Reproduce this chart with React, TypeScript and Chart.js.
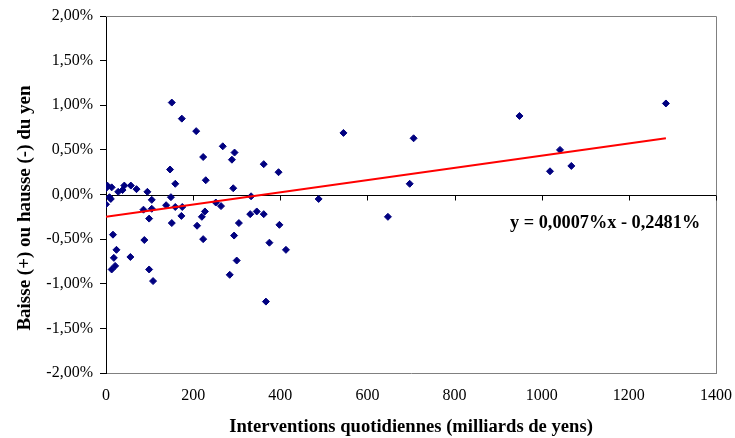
import React, { useEffect, useRef } from "react";
import { Chart, registerables } from "chart.js";

Chart.register(...registerables);

// Daily interventions (billions of yen)
const interventions = [
  151, 174, 207, 268, 295, 289, 223, 147, 229, 159, 292, 95, 70, 57, 42, 38, 28, 13, 3, 0,
  8, 11, 0, 149, 105, 105, 86, 99, 138, 159, 175, 173, 220, 227, 252, 264,
  16, 24, 18, 21, 13, 56, 88, 99, 108, 151, 209, 223, 305, 294, 300, 284,
  362, 396, 545, 706, 697, 333, 488, 331, 346, 362, 647, 398, 375, 413, 367,
  949, 1019, 1042, 1068, 1285,
];
// Change of the yen (%)
const yenChange = [
  1.03, 0.85, 0.71, 0.54, 0.47, 0.39, 0.42, 0.28, 0.16, 0.12, 0.07, 0.03, 0.06, 0.1, 0.1, 0.05, 0.03, 0.08, 0.1, 0.07,
  -0.03, -0.05, -0.11, -0.03, -0.06, -0.16, -0.17, -0.27, -0.12, -0.14, -0.14, -0.24, -0.25, -0.19, -0.09, -0.13,
  -0.45, -0.62, -0.71, -0.8, -0.84, -0.7, -0.51, -0.84, -0.97, -0.32, -0.35, -0.5, -0.32, -0.46, -0.74, -0.9,
  0.34, 0.25, 0.69, 0.63, 0.12, -0.02, -0.05, -0.22, -0.19, -0.22, -0.25, -0.34, -0.54, -0.62, -1.2,
  0.88, 0.26, 0.5, 0.32, 1.02,
];
// Linear trend end points
const trendX = [0, 1285];
const trendY = [-0.2481, 0.63];

const xTickValues = [0, 200, 400, 600, 800, 1000, 1200, 1400];
const yTickValues = [-2, -1.5, -1, -0.5, 0, 0.5, 1, 1.5, 2];

const xTitle = "Interventions quotidiennes (milliards de yens)";
const yTitle = "Baisse (+) ou hausse (-) du yen";
const equation = "y = 0,0007%x - 0,2481%";

const FONT = '"Liberation Serif", "Times New Roman", serif';

export default function App() {
  const ref = useRef<HTMLCanvasElement>(null);

  useEffect(() => {
    document.body.style.margin = "0";
    const canvas = ref.current;
    if (!canvas) return;

    const framePlugin = {
      id: "frame",
      beforeDatasetsDraw(chart: any) {
        const { ctx, chartArea, scales } = chart;
        const { left, right, top, bottom } = chartArea;
        ctx.save();
        ctx.lineWidth = 1;
        ctx.strokeStyle = "#808080";
        ctx.beginPath();
        ctx.moveTo(left, top + 0.5);
        ctx.lineTo(right + 0.5, top + 0.5);
        ctx.lineTo(right + 0.5, bottom);
        ctx.stroke();
        const y0 = Math.round(scales.y.getPixelForValue(0)) + 0.5;
        ctx.strokeStyle = "#000";
        ctx.beginPath();
        ctx.moveTo(left, y0);
        ctx.lineTo(right, y0);
        xTickValues.forEach((v) => {
          if (v === 0) return;
          const px = Math.round(scales.x.getPixelForValue(v)) + 0.5;
          ctx.moveTo(px, y0);
          ctx.lineTo(px, y0 + 5);
        });
        ctx.stroke();
        ctx.restore();
      },
      afterDraw(chart: any) {
        const { ctx } = chart;
        ctx.save();
        ctx.fillStyle = "#000";
        ctx.font = `bold 18.3px ${FONT}`;
        ctx.textBaseline = "middle";
        ctx.textAlign = "left";
        ctx.fillText(equation, 510, 223);
        ctx.font = `bold 19px ${FONT}`;
        ctx.translate(25, 208);
        ctx.rotate(-Math.PI / 2);
        ctx.textAlign = "center";
        ctx.fillText(yTitle, 0, 0);
        ctx.restore();
      },
    };

    const points = interventions.map((x, i) => ({ x, y: yenChange[i] }));
    const trend = trendX.map((x, i) => ({ x, y: trendY[i] }));

    const chart = new Chart(canvas, {
      type: "scatter",
      data: {
        datasets: [
          {
            data: trend,
            showLine: true,
            borderColor: "#FF0000",
            borderWidth: 2,
            pointRadius: 0,
            fill: false,
          } as any,
          {
            data: points,
            pointStyle: "rectRot",
            pointRadius: 3.5,
            borderWidth: 1,
            backgroundColor: "#000080",
            borderColor: "#000080",
          },
        ],
      },
      options: {
        responsive: false,
        animation: false,
        devicePixelRatio: 1,
        layout: { padding: { top: 16, right: 19, left: 0, bottom: 0 } },
        plugins: {
          legend: { display: false },
          tooltip: { enabled: false },
        },
        scales: {
          x: {
            type: "linear",
            min: 0,
            max: 1400,
            afterBuildTicks: (s: any) => {
              s.ticks = xTickValues.map((v) => ({ value: v }));
            },
            afterFit: (s: any) => {
              s.height = 65;
              s.paddingLeft = 0;
              s.paddingRight = 0;
            },
            ticks: {
              color: "#000",
              font: { family: FONT, size: 16 },
              padding: 13,
              maxRotation: 0,
              callback: (v: any) => String(v),
            },
            grid: { drawOnChartArea: false, drawTicks: false },
            border: { color: "#808080", width: 1 },
            title: {
              display: true,
              text: xTitle,
              color: "#000",
              font: { family: FONT, size: 18.6, weight: "bold" },
              padding: { top: 0, bottom: 0 },
            },
          },
          y: {
            type: "linear",
            min: -2,
            max: 2,
            afterBuildTicks: (s: any) => {
              s.ticks = yTickValues.map((v) => ({ value: v }));
            },
            afterFit: (s: any) => {
              s.width = 106;
              s.paddingTop = 0;
              s.paddingBottom = 0;
            },
            ticks: {
              color: "#000",
              font: { family: FONT, size: 16 },
              padding: 7,
              callback: (v: any) => Number(v).toFixed(2).replace(".", ",") + "%",
            },
            grid: { drawOnChartArea: false, drawTicks: true, tickLength: 6, color: "#000" },
            border: { color: "#000", width: 1 },
          },
        },
      } as any,
      plugins: [framePlugin],
    });

    return () => chart.destroy();
  }, []);

  return (
    <div style={{ width: 735, height: 438, background: "#fff" }}>
      <canvas ref={ref} width={735} height={438} style={{ display: "block" }} />
    </div>
  );
}
